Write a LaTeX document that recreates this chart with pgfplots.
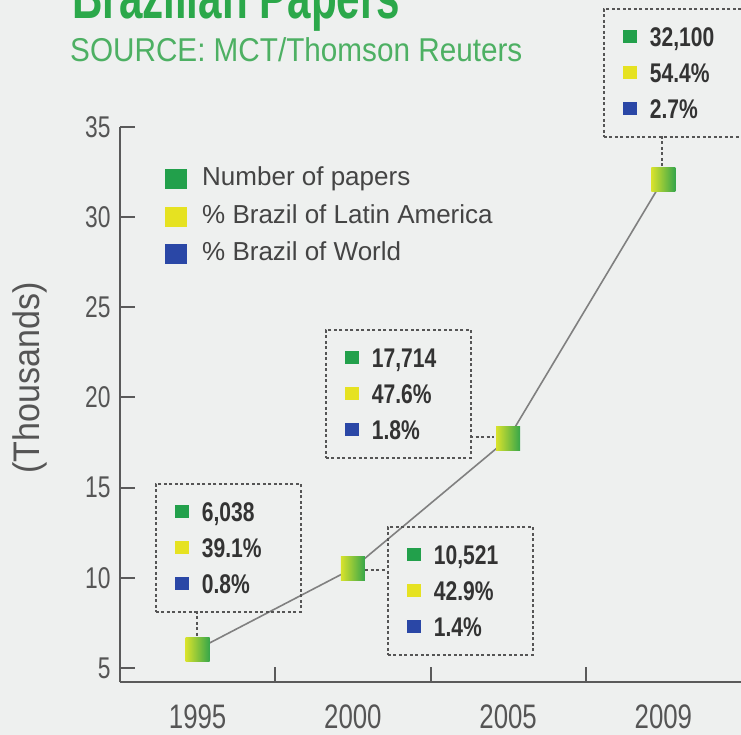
\documentclass[border=0pt]{standalone}
\usepackage{fontspec}
\usepackage{pgfplots}
\pgfplotsset{compat=1.18}
\setmainfont{Liberation Sans}
\newfontfamily\tickfont[FakeStretch=0.76]{Liberation Sans}
\newfontfamily\numfont[FakeStretch=0.78]{Liberation Sans}
\newfontfamily\legfont[FakeStretch=1.0]{Liberation Sans}
\newfontfamily\ylabfont[FakeStretch=0.92]{Liberation Sans}
\newfontfamily\titlefont[FakeStretch=0.68]{Liberation Sans}
\newfontfamily\srcfont[FakeStretch=0.9]{Liberation Sans}

\definecolor{bg}{HTML}{EEF0EF}
\definecolor{cgreen}{HTML}{22A04B}
\definecolor{cyellow}{HTML}{E6E221}
\definecolor{cblue}{HTML}{2A47A6}
\definecolor{axcol}{HTML}{5A5A5A}
\definecolor{tickcol}{HTML}{555555}
\definecolor{numcol}{HTML}{333333}
\definecolor{legcol}{HTML}{444444}
\definecolor{titlecol}{HTML}{2BA84A}
\definecolor{srccol}{HTML}{4DB063}
\definecolor{linecol}{HTML}{808080}
\definecolor{boxcol}{HTML}{555555}
\definecolor{sqleft}{HTML}{D8E22C}
\definecolor{sqright}{HTML}{36A64A}

\pgfdeclarehorizontalshading{gradsq}{100bp}{color(0bp)=(sqleft); color(25bp)=(sqleft); color(75bp)=(sqright); color(100bp)=(sqright)}
\pgfdeclareplotmark{gradsq}{%
  \pgfpathrectangle{\pgfpoint{-12bp}{-12bp}}{\pgfpoint{24bp}{24bp}}%
  \pgfshadepath{gradsq}{0}%
  \pgfusepath{discard}%
}

\newcommand\sq[1]{\textcolor{#1}{\rule[3bp]{14bp}{13bp}}\hspace{13bp}}

\begin{document}
\begin{tikzpicture}
\fill[bg] (0,0) rectangle (741bp,735bp);
\begin{axis}[
  at={(120bp,53bp)}, anchor=south west,
  width=621bp, height=555bp, scale only axis,
  xmin=-0.5, xmax=3.5, ymin=4.22, ymax=35,
  axis x line=bottom, axis y line=left,
  axis line style={-, draw=axcol, line width=2bp},
  tick align=inside,
  major tick length=15bp,
  tick style={draw=axcol, line width=2bp},
  xtick={0.5,1.5,2.5}, xticklabels={,,},
  extra x ticks={0,1,2,3},
  extra x tick labels={1995,2000,2005,2009},
  extra x tick style={major tick length=0pt, tick style={draw=none},
     xticklabel style={font=\tickfont\fontsize{34bp}{34bp}\selectfont, text=tickcol, yshift=-19bp}},
  ytick={5,10,15,20,25,30,35},
  yticklabel style={font=\tickfont\fontsize{30bp}{30bp}\selectfont, text=tickcol, xshift=-6bp},
  /pgf/number format/assume math mode=true,
  clip=false,
  legend cell align=left,
  legend image code/.code={\fill[#1] (0bp,-10bp) rectangle (22bp,10bp);},
  legend style={at={(axis description cs:0.0725,0.927)}, anchor=north west,
     draw=none, fill=none, font=\legfont\fontsize{26bp}{26bp}\selectfont, text=legcol,
     inner sep=0pt, row sep=14.5bp,
     nodes={inner sep=0pt, text height=18bp, text depth=5bp},
     /tikz/every odd column/.append style={column sep=15bp}},
]
\addlegendimage{fill=cgreen, draw=none}
\addlegendentry{Number of papers}
\addlegendimage{fill=cyellow, draw=none}
\addlegendentry{\% Brazil of Latin America}
\addlegendimage{fill=cblue, draw=none}
\addlegendentry{\% Brazil of World}
\addplot[linecol, line width=1.6bp, forget plot] coordinates {(0,6.038) (1,10.521) (2,17.714) (3,32.1)};
\addplot[only marks, mark=gradsq, forget plot] coordinates {(0,6.038) (1,10.521) (2,17.714) (3,32.1)};
\end{axis}
\begin{scope}[yshift=735bp, x=1bp, y=-1bp,
  box/.style={draw=boxcol, line width=1.8bp, dash pattern=on 3bp off 2.5bp,
    anchor=north west, minimum width=145bp, minimum height=128bp,
    text width=107bp, inner xsep=19bp, inner ysep=0pt, align=left,
    font=\numfont\bfseries\fontsize{27bp}{36bp}\selectfont, text=numcol},
  conn/.style={draw=boxcol, line width=1.8bp, dash pattern=on 3bp off 2.5bp}]
\node[anchor=base west, inner sep=0pt, font=\titlefont\bfseries\fontsize{62bp}{62bp}\selectfont, text=titlecol] at (72,19) {Brazilian Papers};
\node[anchor=base west, inner sep=0pt, font=\srcfont\fontsize{33bp}{33bp}\selectfont, text=srccol] at (70,62) {SOURCE: MCT/Thomson Reuters};
\node[rotate=90, inner sep=0pt, font=\ylabfont\fontsize{37bp}{37bp}\selectfont, text=tickcol] at (30,378) {(Thousands)};
\node[box] at (155,483) {\sq{cgreen}6,038\\\sq{cyellow}39.1\%\\\sq{cblue}0.8\%};
\node[box] at (387,526) {\sq{cgreen}10,521\\\sq{cyellow}42.9\%\\\sq{cblue}1.4\%};
\node[box] at (325,329) {\sq{cgreen}17,714\\\sq{cyellow}47.6\%\\\sq{cblue}1.8\%};
\node[box] at (603,8) {\sq{cgreen}32,100\\\sq{cyellow}54.4\%\\\sq{cblue}2.7\%};
\draw[conn] (197,611) -- (197,638);
\draw[conn] (365,570) -- (387,570);
\draw[conn] (470,437) -- (494,437);
\draw[conn] (662,136) -- (662,166);
\end{scope}
\pgfresetboundingbox
\useasboundingbox (0,0) rectangle (741bp,735bp);
\end{tikzpicture}
\end{document}
